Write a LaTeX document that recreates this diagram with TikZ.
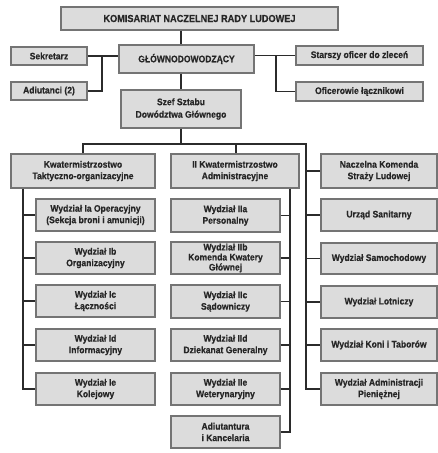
\documentclass[tikz,border=0pt]{standalone}
\usepackage{fontspec}
\setmainfont[FakeStretch=0.9, BoldFeatures={FakeBold=0.5}]{Liberation Sans}
\usetikzlibrary{calc}
\definecolor{boxfill}{HTML}{DCDCDC}
\definecolor{boxline}{HTML}{747474}
\definecolor{conn}{HTML}{2B2B2B}
\definecolor{txt}{HTML}{262626}
\newcommand\bx[6]{\node[bx, minimum width={#4-#2}, minimum height={#5-#3}] (#1) at ({(#2+#4)/2},{-(#3+#5)/2}) {#6};}
\begin{document}
\begin{tikzpicture}[x=1pt,y=1pt,
  bx/.style={draw=boxline, fill=boxfill, line width=1.1pt, inner sep=0pt, align=center,
    text=txt, font=\fontsize{9.5}{11.5}\selectfont\bfseries},
  cn/.style={draw=conn, line width=1.5pt}]
\useasboundingbox (0,0) rectangle (438,-453);
% boxes
\bx{kom}{61}{7}{338}{30}{\fontsize{10.2}{11}\selectfont KOMISARIAT NACZELNEJ RADY LUDOWEJ}
\bx{gl}{119}{45}{254}{73}{GŁÓWNODOWODZĄCY}
\bx{sek}{11}{47}{87}{65}{Sekretarz}
\bx{adi}{11}{82}{87}{100}{Adiutanci (2)}
\bx{sta}{296}{46}{423}{65}{Starszy oficer do zleceń}
\bx{ofi}{296}{82}{423}{101}{Oficerowie łącznikowi}
\bx{szef}{121}{90}{241}{128}{Szef Sztabu\\[1pt]Dowództwa Głównego}
\bx{kw1}{11}{154}{155}{188}{Kwatermistrzostwo\\Taktyczno-organizacyjne}
\bx{kw2}{171}{154}{299}{188}{II Kwatermistrzostwo\\Administracyjne}
\bx{nk}{321}{154}{437}{188}{Naczelna Komenda\\Straży Ludowej}
% left column
\bx{ia}{36}{199}{155}{231}{Wydział Ia Operacyjny\\(Sekcja broni i amunicji)}
\bx{ib}{36}{242}{155}{274}{Wydział Ib\\Organizacyjny}
\bx{ic}{36}{285}{155}{317}{Wydział Ic\\Łączności}
\bx{id}{36}{329}{155}{361}{Wydział Id\\Informacyjny}
\bx{ie}{36}{373}{155}{405}{Wydział Ie\\Kolejowy}
% middle column
\bx{iia}{171}{199}{280}{232}{Wydział IIa\\Personalny}
\bx{iib}{171}{242}{280}{274}{Wydział IIb\\[-1.5pt]Komenda Kwatery\\[-1.5pt]Głównej}
\bx{iic}{171}{285}{280}{318}{Wydział IIc\\Sądowniczy}
\bx{iid}{171}{329}{280}{361}{Wydział IId\\Dziekanat Generalny}
\bx{iie}{171}{373}{280}{405}{Wydział IIe\\Weterynaryjny}
\bx{adk}{171}{416}{280}{448}{Adiutantura\\i Kancelaria}
% right column
\bx{us}{321}{199}{437}{231}{Urząd Sanitarny}
\bx{ws}{321}{243}{437}{274}{Wydział Samochodowy}
\bx{wl}{321}{286}{437}{318}{Wydział Lotniczy}
\bx{wk}{321}{329}{437}{361}{Wydział Koni i Taborów}
\bx{wa}{321}{373}{437}{405}{Wydział Administracji\\Pieniężnej}
% connectors
\coordinate (lj) at (102,-56);
\coordinate (rj) at (276,-56);
\coordinate (bus) at (szef.south |- 0,-144);
\coordinate (busL) at (kw1.north |- bus);
\coordinate (busM) at (236,-144);
\coordinate (busR) at (306,-144);
\coordinate (spL) at (23,0);
\coordinate (spM) at (290,0);
\draw[cn] (szef.north |- kom.south) -- (szef.north |- gl.north);
\draw[cn] (szef.north |- gl.south) -- (szef.north);
\draw[cn] (sek.east) -- (sek.east -| gl.west);
\draw[cn] (adi.east) -| (lj);
\draw[cn] (gl.east |- sta.west) -- (sta.west);
\draw[cn] (ofi.west) -| (rj);
\draw[cn] (szef.south) -- (bus);
\draw[cn] (kw1.north) -- (busL) -- (busR) |- (wa.west);
\draw[cn] (busM) -- (busM |- kw2.north);
\foreach \n in {nk,us,ws,wl,wk} \draw[cn] (busR |- \n.west) -- (\n.west);
\draw[cn] (spL |- kw1.south) |- (ie.west);
\foreach \n in {ia,ib,ic,id} \draw[cn] (spL |- \n.west) -- (\n.west);
\draw[cn] (spM |- kw2.south) |- (adk.east);
\foreach \n in {iia,iib,iic,iid,iie} \draw[cn] (\n.east) -- (spM |- \n.east);
\end{tikzpicture}
\end{document}
